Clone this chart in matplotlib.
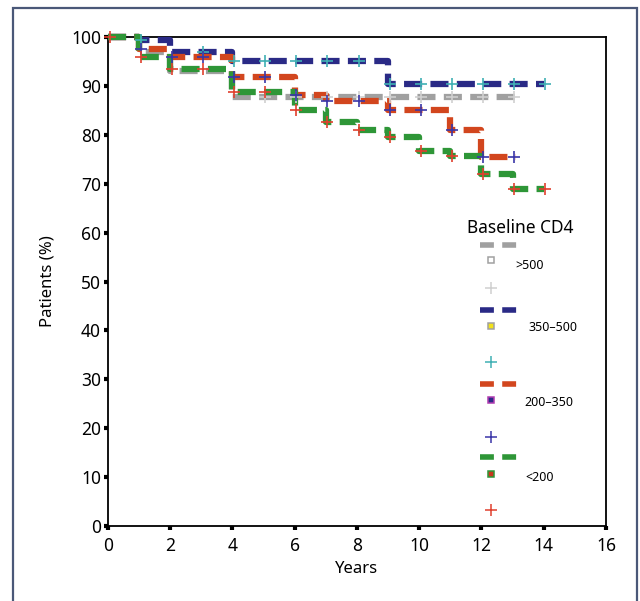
import numpy as np
import matplotlib
matplotlib.use("Agg")
import matplotlib.pyplot as plt
from matplotlib.patches import Rectangle

plt.rcParams['font.family'] = ['Noto Sans', 'DejaVu Sans']
plt.rcParams['lines.scale_dashes'] = False

# Kaplan-Meier steps per baseline CD4 group (years, % patients)
gt500_t = [0, 1, 2, 4, 13.1]
gt500_s = [100, 97, 93, 87.8, 87.8]
gt500_cens = [5, 6, 7, 8, 9, 10, 11, 12, 13]

c350_t = [0, 1, 2, 4, 9, 14]
c350_s = [100, 99.3, 97, 95, 90.4, 90.4]
c350_cens = [1, 3, 4, 5, 6, 7, 8, 9, 10, 11, 12, 13, 14]

c200_t = [0, 1, 2, 4, 6, 7, 9, 11, 12, 13.1]
c200_s = [100, 97.5, 96, 91.8, 88.1, 87, 85, 81, 75.5, 75.5]
c200_cens = [1, 2, 3, 4, 5, 6, 7, 8, 9, 10, 11, 12, 13]

lt200_t = [0, 1, 2, 4, 6, 7, 8, 9, 10, 11, 12, 13, 14]
lt200_s = [100, 96, 93.5, 88.7, 85, 82.7, 81, 79.5, 76.6, 75.7, 72, 69, 69]
lt200_cens = [0, 1, 2, 3, 4, 5, 6, 7, 8, 9, 10, 11, 12, 13, 14]

labels = ['>500', '350\u2013500', '200\u2013350', '<200']
line_cols = ['#a0a0a0', '#2a2a86', '#d2461e', '#2e9637']
cross_cols = ['#cfcfcf', '#40b0b4', '#3a36a8', '#e0402e']
sq_face = ['white', '#f2e21a', '#2a2a86', '#c8381e']
sq_edge = ['#a0a0a0', '#a0a0a0', '#b03cb0', '#2e9637']

groups = [(gt500_t, gt500_s, gt500_cens), (c350_t, c350_s, c350_cens),
          (c200_t, c200_s, c200_cens), (lt200_t, lt200_s, lt200_cens)]


def step_at(t, s, x):
    i = np.searchsorted(t, x, side='right') - 1
    return np.asarray(s)[np.clip(i, 0, len(s) - 1)]


fig = plt.figure(figsize=(6.4, 6.01), dpi=100)
fig.patches.append(Rectangle((0.0203, -0.1), 0.975, 1.0867, transform=fig.transFigure,
                             fill=False, edgecolor='#4a5878', linewidth=1.6))
ax = fig.add_axes([0.16875, 0.1248, 0.778, 0.8136])

for k, (t, s, cens) in enumerate(groups):
    ax.plot(t, s, drawstyle='steps-post', color=line_cols[k], lw=4.5,
            dashes=(13, 6), dash_capstyle='butt', clip_on=False, zorder=2 + k)
for k, (t, s, cens) in enumerate(groups):
    cx = np.array(cens) + 0.05
    ax.plot(cx, step_at(t, s, cx), ls='none', marker='+', ms=9, mew=1.2,
            color=cross_cols[k], clip_on=False, zorder=10)

ax.set_xlim(0, 16)
ax.set_ylim(0, 100)
ax.set_xticks(np.arange(0, 17, 2))
ax.set_yticks(np.arange(0, 101, 10))
ax.tick_params(direction='out', length=3, width=3, labelsize=12.5)
ax.tick_params(axis='x', pad=5)
ax.tick_params(axis='y', pad=2)
for sp in ax.spines.values():
    sp.set_linewidth(1.3)
ax.set_xlabel('Years', fontsize=12, labelpad=4)
ax.set_ylabel('Patients (%)', fontsize=12, labelpad=11)

# legend drawn by hand to mimic the original layout
tr = ax.transAxes
ax.text(0.72, 0.609, 'Baseline CD4', transform=tr, fontsize=12.5, va='center', ha='left')
dash_y = [0.575, 0.442, 0.290, 0.141]
sq_y = [0.544, 0.409, 0.258, 0.106]
lab_xy = [(0.819, 0.532), (0.845, 0.405), (0.837, 0.252), (0.839, 0.100)]
plus_y = [0.487, 0.335, 0.182, 0.033]
for k in range(4):
    ax.plot([0.747, 0.822], [dash_y[k], dash_y[k]], transform=tr, color=line_cols[k],
            lw=4, dashes=(10, 6), dash_capstyle='butt', clip_on=False)
    ax.plot([0.769], [sq_y[k]], transform=tr, ls='none', marker='s', ms=4.5, mew=1.1,
            mfc=sq_face[k], mec=sq_edge[k], clip_on=False)
    ax.text(lab_xy[k][0], lab_xy[k][1], labels[k], transform=tr, fontsize=9,
            va='center', ha='left')
    ax.plot([0.769], [plus_y[k]], transform=tr, ls='none', marker='+', ms=9, mew=1.1,
            color=cross_cols[k], clip_on=False)

fig.savefig('out.png', dpi=100)
